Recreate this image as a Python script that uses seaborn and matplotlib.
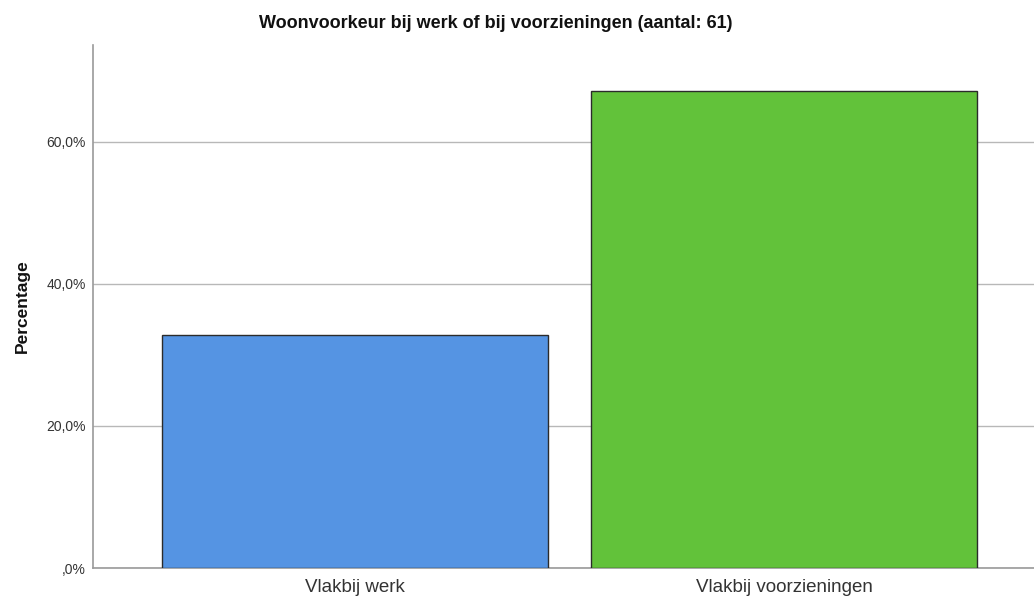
import matplotlib
matplotlib.use("Agg")
import matplotlib.pyplot as plt
import seaborn as sns
import pandas as pd
from matplotlib.ticker import FuncFormatter

categories = ["Vlakbij werk", "Vlakbij voorzieningen"]
percentages = [32.79, 67.21]
colors = ["#5594E3", "#62C23A"]
title = "Woonvoorkeur bij werk of bij voorzieningen (aantal: 61)"

df = pd.DataFrame({"cat": categories, "pct": percentages})

sns.set_style("white")
plt.rcParams['font.family'] = ['Liberation Sans', 'DejaVu Sans']

fig = plt.figure(figsize=(10.34, 5.99), dpi=100)
ax = fig.add_axes([93/1034, 31/599, 1 - 93/1034, (568-45)/599])

sns.barplot(data=df, x="cat", y="pct", hue="cat", palette=colors, order=categories,
            hue_order=categories, width=0.9, edgecolor="#2b2b2b", linewidth=1.0,
            legend=False, ax=ax, zorder=3, saturation=1)

ax.set_xlim(-0.611, 1.583)
ax.set_ylim(0, 73.66)
ax.set_yticks([0, 20, 40, 60])
ax.yaxis.set_major_formatter(FuncFormatter(lambda v, p: (",0%" if v == 0 else f"{int(v)},0%")))
ax.grid(axis="y", color="#b8b8b8", linewidth=1.0, zorder=0)
ax.set_axisbelow(True)
for s in ["top", "right"]:
    ax.spines[s].set_visible(False)
for s in ["left", "bottom"]:
    ax.spines[s].set_color("#9a9a9a")
    ax.spines[s].set_linewidth(1.2)
ax.tick_params(axis="y", length=0, labelsize=10, pad=5, colors="#333333")
ax.tick_params(axis="x", length=0, labelsize=13.5, pad=8, colors="#333333")
ax.set_xlabel("")
ax.set_ylabel("Percentage", fontsize=12.5, fontweight="bold", labelpad=12, color="#111111")
fig.suptitle(title, fontsize=13, fontweight="bold", x=496/1034, y=1 - 24/599, va="center", color="#111111")

fig.savefig("out.png", dpi=100, facecolor="white")
